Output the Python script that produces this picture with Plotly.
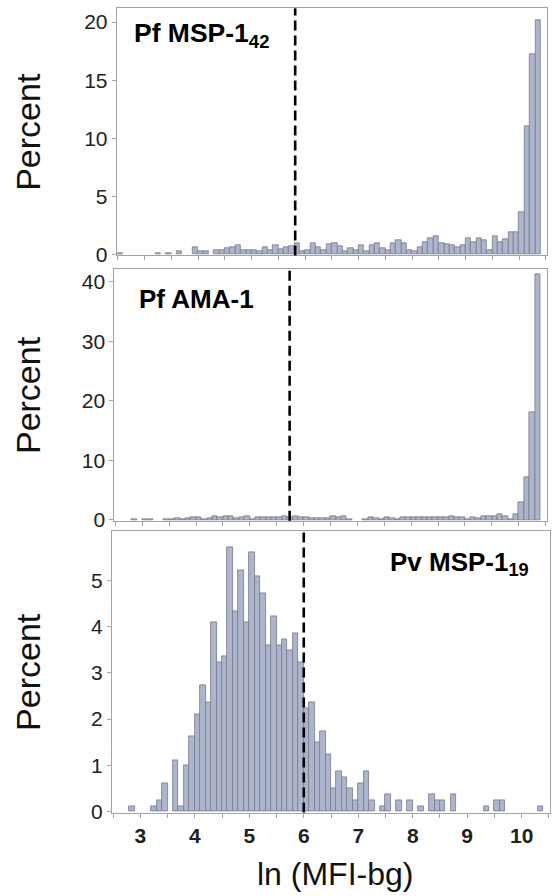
import numpy as np
import plotly.graph_objects as go

# Histogram bins: 0.1 wide, left edges 2.5 ... 10.3
BIN_START = 2.5
BIN_WIDTH = 0.1
N_BINS = 79

# Percent of samples per bin
pf_msp1_42 = [
    0.12, 0, 0, 0, 0, 0, 0, 0.12, 0, 0.12,
    0, 0.25, 0, 0, 0.6, 0.25, 0.25, 0, 0.37, 0.37,
    0.5, 0.62, 0.74, 0.37, 0.37, 0.37, 0.25, 0.6, 0.37, 0.82,
    0.43, 0.57, 0.71, 0.94, 0.25, 0.37, 0.94, 0.62, 0.37, 0.85,
    0.96, 0.71, 0.23, 0.51, 0.37, 0.82, 0.23, 0.8, 0.94, 0.51,
    0.37, 0.94, 1.22, 0.94, 0.31, 0.23, 0.57, 1.08, 1.36, 1.56,
    0.94, 0.85, 0.74, 0.6, 0.74, 1.42, 1.08, 1.42, 1.22, 0.34,
    1.53, 1.02, 1.33, 1.93, 1.93, 3.66, 11.0, 17.2, 20.2,
]
pf_ama1 = [
    0, 0, 0, 0.12, 0, 0.12, 0.12, 0, 0, 0.12,
    0.12, 0.25, 0.12, 0.25, 0.5, 0.37, 0.12, 0.25, 0.62, 0.5,
    0.62, 0.62, 0.25, 0.5, 0.62, 0.12, 0.5, 0.5, 0.37, 0.5,
    0.5, 0.62, 0.5, 0.62, 0.5, 0.37, 0.25, 0.25, 0.25, 0.25,
    0.62, 0.37, 0.62, 0.12, 0, 0, 0.12, 0.37, 0.25, 0.12,
    0.37, 0.25, 0.12, 0.37, 0.5, 0.5, 0.5, 0.37, 0.5, 0.5,
    0.5, 0.37, 0.62, 0.37, 0.5, 0.12, 0.37, 0.25, 0.62, 0.62,
    0.62, 1.0, 0.62, 0.12, 1.0, 3.04, 7.2, 18.0, 41.2,
]
pv_msp1_19 = [
    0, 0, 0, 0.12, 0, 0, 0, 0.12, 0.25, 0.62,
    0, 1.12, 0.12, 1.0, 1.62, 2.11, 2.73, 2.36, 4.1, 3.23,
    3.36, 5.72, 4.34, 5.22, 4.1, 5.6, 5.09, 4.73, 3.6, 4.22,
    3.6, 3.73, 3.48, 3.85, 3.23, 2.23, 2.36, 1.49, 1.74, 1.24,
    0.5, 0.87, 0.74, 0.5, 0.25, 0.62, 0.87, 0.25, 0, 0.12,
    0.37, 0, 0.25, 0, 0.25, 0, 0.12, 0, 0.37, 0.25,
    0.25, 0, 0.37, 0, 0, 0, 0, 0, 0.12, 0,
    0.25, 0.25, 0, 0, 0, 0, 0, 0, 0.12,
]

# Seropositivity cut-offs (ln MFI-bg)
cutoffs = [5.815, 5.74, 6.0]

panel_labels = ["Pf MSP-1<sub>42</sub>", "Pf AMA-1", "Pv MSP-1<sub>19</sub>"]
y_ranges = [[-0.1, 21.2], [-0.15, 42.1], [-0.02, 6.06]]
y_ticks = [[0, 5, 10, 15, 20], [0, 10, 20, 30, 40], [0, 1, 2, 3, 4, 5]]
x_major = [3, 4, 5, 6, 7, 8, 9, 10]
x_labels = ["3", "4", "5", "6", "7", "8", "9", "10"]

W, H = 553, 896
FONT = "Arial, Liberation Sans, sans-serif"
BAR_FILL = "#acb5cb"
BAR_LINE = "#767b8c"
FRAME = "#a3a3a3"

# Panel frames in pixels: (left, right, top, bottom)
frames = [
    (116.7, 547.0, 8.3, 258.3),
    (114.3, 546.7, 272.3, 526.7),
    (112.0, 550.0, 537.3, 821.7),
]

bin_centers = np.round(BIN_START + BIN_WIDTH * (np.arange(N_BINS) + 0.5), 3)
series = [pf_msp1_42, pf_ama1, pv_msp1_19]

fig = go.Figure()
layout = dict(
    width=W, height=H,
    margin=dict(l=0, r=0, t=0, b=0),
    paper_bgcolor="white", plot_bgcolor="white",
    showlegend=False, bargap=0,
    font=dict(family=FONT, color="#222222"),
)
shapes = []
annotations = []

for i, vals in enumerate(series):
    sfx = "" if i == 0 else str(i + 1)
    # empty bins are left blank rather than drawn as flat outlines
    heights = [v if v > 0 else None for v in vals]
    fig.add_trace(go.Bar(
        x=bin_centers, y=heights, width=BIN_WIDTH,
        marker=dict(color=BAR_FILL, line=dict(color=BAR_LINE, width=0.8)),
        xaxis="x" + sfx, yaxis="y" + sfx, hoverinfo="x+y",
    ))
    l, r, t, b = frames[i]
    last = i == len(series) - 1
    layout["xaxis" + sfx] = dict(
        domain=[l / W, r / W], anchor="y" + sfx,
        range=[2.48, 10.52], showgrid=False, zeroline=False,
        showline=True, linecolor=FRAME, linewidth=1, mirror=True,
        ticks="outside", ticklen=4, tickcolor=FRAME,
        tickvals=x_major, ticktext=x_labels,
        showticklabels=last,
        minor=dict(tick0=2.5, dtick=0.5, ticks="outside", ticklen=4,
                   tickcolor=FRAME, showgrid=False),
        tickfont=dict(size=21, family=FONT, color="#222222", weight="bold"),
    )
    layout["yaxis" + sfx] = dict(
        domain=[1 - b / H, 1 - t / H], anchor="x" + sfx,
        range=y_ranges[i], showgrid=False, zeroline=False,
        showline=True, linecolor=FRAME, linewidth=1, mirror=True,
        ticks="outside", ticklen=4, tickcolor=FRAME,
        tickvals=y_ticks[i],
        tickfont=dict(size=21, family=FONT, color="#222222"),
    )
    shapes.append(dict(
        type="line", xref="x" + sfx, yref="y" + sfx + " domain",
        x0=cutoffs[i], x1=cutoffs[i], y0=0, y1=1,
        line=dict(color="black", width=2.6, dash="10px,5px"),
    ))
    annotations.append(dict(
        text="Percent", textangle=-90, showarrow=False,
        xref="paper", yref="paper",
        x=28 / W, y=1 - ((t + b) / 2) / H,
        xanchor="center", yanchor="middle",
        font=dict(size=34, family=FONT, color="#111111"),
    ))

# Antigen labels
annotations.append(dict(
    text=panel_labels[0], showarrow=False, xref="paper", yref="paper",
    x=132 / W, y=1 - 35 / H, xanchor="left", yanchor="middle",
    font=dict(size=26.5, family=FONT, color="black", weight="bold"),
))
annotations.append(dict(
    text=panel_labels[1], showarrow=False, xref="paper", yref="paper",
    x=137 / W, y=1 - 302 / H, xanchor="left", yanchor="middle",
    font=dict(size=26, family=FONT, color="black", weight="bold"),
))
annotations.append(dict(
    text=panel_labels[2], showarrow=False, xref="paper", yref="paper",
    x=531 / W, y=1 - 570 / H, xanchor="right", yanchor="middle",
    font=dict(size=26, family=FONT, color="black", weight="bold"),
))
# X-axis title
annotations.append(dict(
    text="ln (MFI-bg)", showarrow=False, xref="paper", yref="paper",
    x=335 / W, y=1 - 884 / H, xanchor="center", yanchor="middle",
    font=dict(size=32, family=FONT, color="#111111"),
))

layout["shapes"] = shapes
layout["annotations"] = annotations
fig.update_layout(**layout)
fig.write_html("out.html")
